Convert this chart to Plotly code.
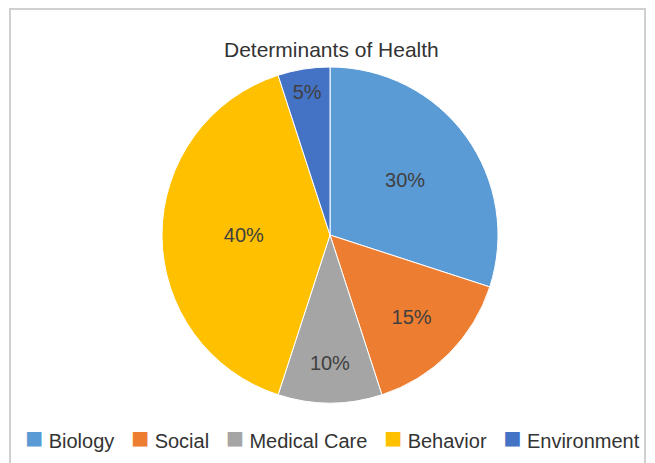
import plotly.graph_objects as go

# Data
labels = ["Biology", "Social", "Medical Care", "Behavior", "Environment"]
values = [30, 15, 10, 40, 5]
colours = ["#5B9BD5", "#ED7D31", "#A5A5A5", "#FFC000", "#4472C4"]

W, H = 655, 463
OFF = 8  # page body margin, positions below are in page pixels
cx, cy, r = 330 - OFF, 235 - OFF, 168

fig = go.Figure(go.Pie(
    labels=labels,
    values=values,
    sort=False,
    direction="clockwise",
    rotation=0,
    marker=dict(colors=colours, line=dict(color="white", width=1)),
    texttemplate="%{value}%",
    textposition="inside",
    insidetextorientation="horizontal",
    textfont=dict(family="Liberation Sans, Arial", size=20, color="#404040"),
    domain=dict(x=[(cx - r) / W, (cx + r) / W], y=[(H - cy - r) / H, (H - cy + r) / H]),
    hovertemplate="%{label}: %{value}%<extra></extra>",
))

# legend drawn as one line of text, Excel style (square + label)
legend_text = "\u00a0\u00a0\u00a0".join(
    f"<span style='color:{c};font-size:30px'>■</span>\u00a0{l}" for l, c in zip(labels, colours)
)

fig.update_layout(
    width=W,
    height=H,
    margin=dict(l=0, r=0, t=0, b=0),
    paper_bgcolor="white",
    font=dict(family="Liberation Sans, Arial", size=20, color="#404040"),
    showlegend=False,
    annotations=[
        dict(
            text="Determinants of Health",
            x=(331 - OFF) / W, y=(H - (36 - OFF)) / H, xref="paper", yref="paper",
            showarrow=False, font=dict(size=21, color="#333333"),
        ),
        dict(
            text=legend_text,
            x=(332 - OFF) / W, y=(H - (437 - OFF)) / H, xref="paper", yref="paper",
            xanchor="center", yanchor="middle",
            showarrow=False, font=dict(size=20, color="#333333"),
        ),
    ],
    shapes=[dict(
        type="rect", xref="paper", yref="paper",
        x0=(10 - OFF) / W, x1=(645 - OFF) / W, y0=-0.05, y1=(H - 1) / H,
        line=dict(color="#D0D0D0", width=2),
    )],
)

fig.write_html("out.html")
